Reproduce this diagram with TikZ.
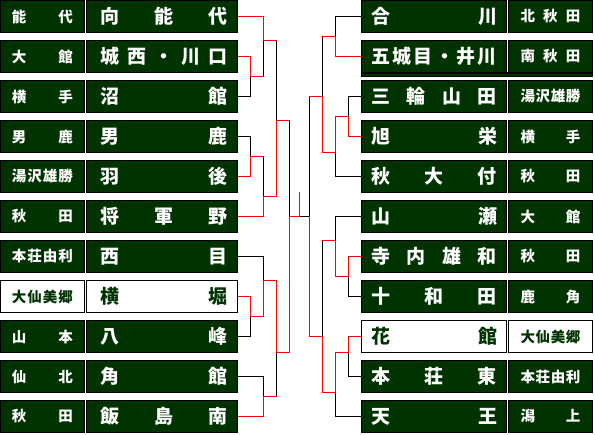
\documentclass[tikz,border=0pt]{standalone}
\usepackage{fontspec}
\newfontfamily\jp{Noto Sans CJK JP}
\definecolor{dg}{RGB}{0,51,0}
\definecolor{rd}{RGB}{255,0,0}
\newcommand\tmL[1]{\hspace*{4.4pt}\makebox[127pt]{#1}}
\newcommand\tmR[1]{\makebox[126pt]{#1}}
\newcommand\lbL[1]{\makebox[61pt]{#1}}
\newcommand\lbR[1]{\makebox[60pt]{#1}}
\tikzset{
  boxbase/.style={draw=black, line width=1pt, fill=dg, text=white, inner sep=0pt, minimum height=32pt},
  labL/.style={boxbase, minimum width=84pt, font=\jp\bfseries\fontsize{14.5}{15}\selectfont},
  labR/.style={boxbase, minimum width=84pt, font=\jp\bfseries\fontsize{14.5}{15}\selectfont},
  teamL/.style={boxbase, minimum width=151pt, font=\jp\bfseries\fontsize{19}{20}\selectfont},
  teamR/.style={boxbase, minimum width=145pt, font=\jp\bfseries\fontsize{19}{20}\selectfont},
  hl/.style={fill=white, text=dg},
  win/.style={draw=rd, line width=1pt, line cap=rect},
  lose/.style={draw=black, line width=1pt, line cap=rect}
}
\begin{document}
\begin{tikzpicture}[x=1pt,y=-1pt]
\useasboundingbox (0,0) rectangle (595,435);
% ---------- left boxes ----------
\foreach \k/\lab/\team/\st in {
  1/{能\hfill 代}/{向\hfill 能\hfill 代}/{},
  2/{大\hfill 館}/{城\hfill 西\hfill ・\hfill 川\hfill 口}/{},
  3/{横\hfill 手}/{沼\hfill 館}/{},
  4/{男\hfill 鹿}/{男\hfill 鹿}/{},
  5/{湯\hfill 沢\hfill 雄\hfill 勝}/{羽\hfill 後}/{},
  6/{秋\hfill 田}/{将\hfill 軍\hfill 野}/{},
  7/{本\hfill 荘\hfill 由\hfill 利}/{西\hfill 目}/{},
  8/{大\hfill 仙\hfill 美\hfill 郷}/{横\hfill 堀}/hl,
  9/{山\hfill 本}/{八\hfill 峰}/{},
  10/{仙\hfill 北}/{角\hfill 館}/{},
  11/{秋\hfill 田}/{飯\hfill 島\hfill 南}/{}}{
  \node[labL,\st] (LL\k) at (42.5,{16.5+40*(\k-1)}) {\lbL{\lab}};
  \node[teamL,\st] (L\k) at (162,{16.5+40*(\k-1)}) {\tmL{\team}};
}
% ---------- right boxes ----------
\fill[dg] (361,72) rectangle (593,77);
\draw[line width=1pt] (361.5,73.5) rectangle (592.5,76.5);
\foreach \k/\lab/\team/\st in {
  1/{北\hfill 秋\hfill 田}/{合\hfill 川}/{},
  2/{南\hfill 秋\hfill 田}/{五\hfill 城\hfill 目\hfill ・\hfill 井\hfill 川}/{},
  3/{湯\hfill 沢\hfill 雄\hfill 勝}/{三\hfill 輪\hfill 山\hfill 田}/{},
  4/{横\hfill 手}/{旭\hfill 栄}/{},
  5/{秋\hfill 田}/{秋\hfill 大\hfill 付}/{},
  6/{大\hfill 館}/{山\hfill 瀬}/{},
  7/{秋\hfill 田}/{寺\hfill 内\hfill 雄\hfill 和}/{},
  8/{鹿\hfill 角}/{十\hfill 和\hfill 田}/{},
  9/{大\hfill 仙\hfill 美\hfill 郷}/{花\hfill 館}/hl,
  10/{本\hfill 荘\hfill 由\hfill 利}/{本\hfill 荘\hfill 東}/{},
  11/{潟\hfill 上}/{天\hfill 王}/{}}{
  \node[teamR,\st] (R\k) at (434,{16.5+40*(\k-1)}) {\tmR{\team}};
  \node[labR,\st] (RL\k) at (550.5,{16.5+40*(\k-1)}) {\lbR{\lab}};
}
% ---------- x levels (pixel centres) ----------
\def\xa{250.5}\def\xb{263.5}\def\xc{276.5}\def\xd{289.5}\def\xm{299.5}
\def\xe{309.5}\def\xf{322.5}\def\xg{335.5}\def\xh{348.5}
% ---------- junction coordinates ----------
\coordinate (A1) at (\xa,76.5);   \coordinate (B1) at (\xb,40.5);
\coordinate (A2) at (\xa,156.5);  \coordinate (B2) at (\xb,196.5);
\coordinate (C1) at (\xc,120.5);  \coordinate (A3) at (\xa,316.5);
\coordinate (B3) at (\xb,280.5);  \coordinate (B4) at (\xb,396.5);
\coordinate (C2) at (\xc,352.5);  \coordinate (D) at (\xd,216.5);
\coordinate (M) at (\xm,216.5);   \coordinate (Mtop) at (\xm,192.5);
\coordinate (E) at (\xe,216.5);
\coordinate (G1) at (\xg,36.5);   \coordinate (H1) at (\xh,116.5);
\coordinate (G2) at (\xg,152.5);  \coordinate (F1) at (\xf,96.5);
\coordinate (H2) at (\xh,276.5);  \coordinate (G3) at (\xg,240.5);
\coordinate (H3) at (\xh,352.5);  \coordinate (G4) at (\xg,392.5);
\coordinate (F2) at (\xf,336.5);
% ---------- left bracket : losers ----------
\draw[lose] (L3.east) -| (A1);
\draw[lose] (\xb,76.5) -- (B1);
\draw[lose] (\xc,40.5) -- (C1);
\draw[lose] (L4.east) -| (A2);
\draw[lose] (\xb,156.5) -- (B2);
\draw[lose] (\xd,120.5) -- (D);
\draw[lose] (L9.east) -| (A3);
\draw[lose] (L7.east) -| (B3);
\draw[lose] (L10.east) -| (B4);
\draw[lose] (\xc,396.5) -- (C2);
\draw[lose] (M) -- (E);
% ---------- left bracket : winners ----------
\draw[win] (L2.east) -| (A1) -- (\xb,76.5);
\draw[win] (L1.east) -| (B1) -- (\xc,40.5);
\draw[win] (L5.east) -| (A2) -- (\xb,156.5);
\draw[win] (L6.east) -| (B2) -- (\xc,196.5) -- (C1) -- (\xd,120.5);
\draw[win] (L8.east) -| (A3) -- (\xb,316.5) -- (B3) -- (\xc,280.5) -- (C2) -- (\xd,352.5) -- (D) -- (M) -- (Mtop);
\draw[win] (L11.east) -| (B4) -- (\xc,396.5);
% ---------- right bracket : losers ----------
\draw[lose] (R1.west) -| (G1);
\draw[lose] (\xf,36.5) -- (F1);
\draw[lose] (R3.west) -| (H1);
\draw[lose] (R5.west) -| (G2);
\draw[lose] (\xe,96.5) -- (E);
\draw[lose] (R8.west) -| (H2);
\draw[lose] (R6.west) -| (G3);
\draw[lose] (\xf,240.5) -- (F2);
\draw[lose] (R10.west) -| (H3);
\draw[lose] (R11.west) -| (G4);
% ---------- right bracket : winners ----------
\draw[win] (R2.west) -| (G1) -- (\xf,36.5);
\draw[win] (R4.west) -| (H1) -- (\xg,116.5) -- (G2) -- (\xf,152.5) -- (F1) -- (\xe,96.5);
\draw[win] (R7.west) -| (H2) -- (\xg,276.5) -- (G3) -- (\xf,240.5);
\draw[win] (R9.west) -| (H3) -- (\xg,352.5) -- (G4) -- (\xf,392.5) -- (F2) -- (\xe,336.5) -- (E);
\end{tikzpicture}
\end{document}
